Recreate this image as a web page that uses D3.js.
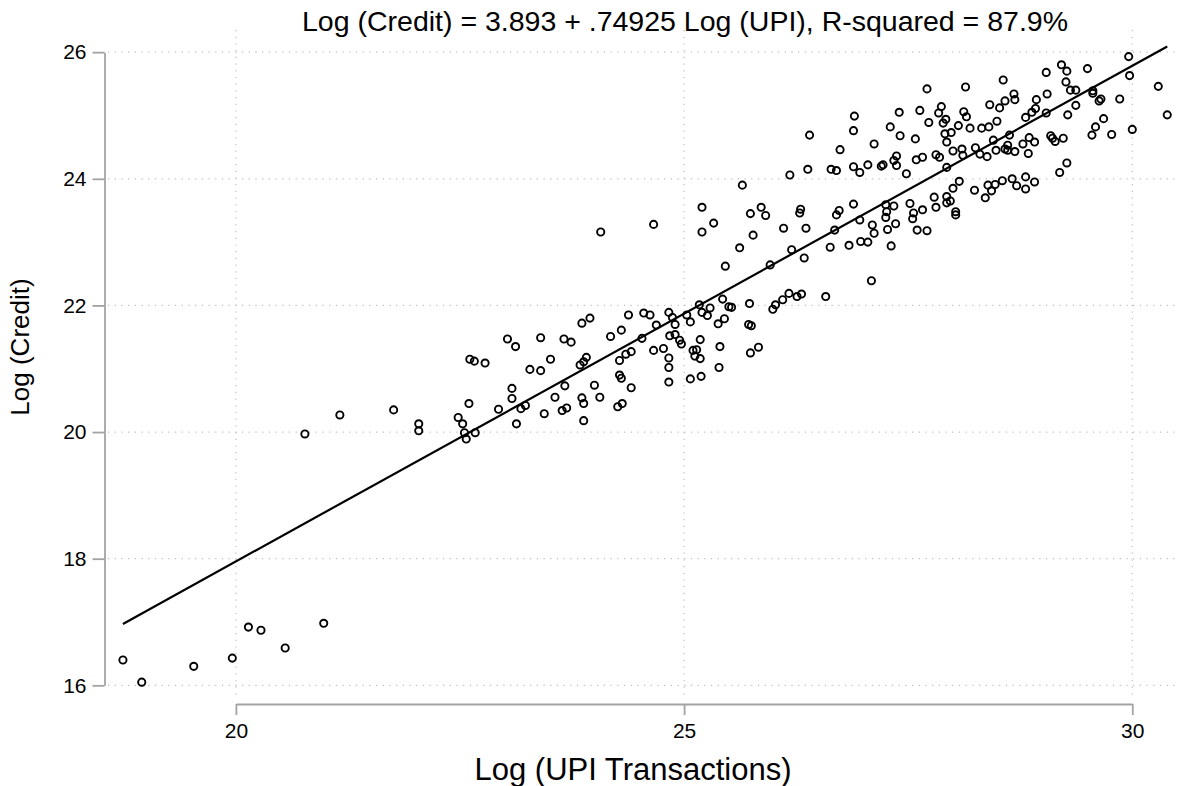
<!DOCTYPE html>
<html>
<head>
<meta charset="utf-8">
<script src="https://cdn.jsdelivr.net/npm/d3@7"></script>
<style>
  body { margin: 0; background: #fff; }
  svg { display: block; font-family: "Liberation Sans", Arial, sans-serif; }
</style>
</head>
<body>
<svg id="chart"></svg>
<script>
// scatter values: log UPI transactions (x) and log credit (y)
const upiLog = [
  18.74, 18.95, 19.53, 19.96, 20.14, 20.28, 20.55, 20.98, 20.77, 21.16, 21.76, 22.04, 22.04,
  22.48, 22.53, 22.55, 22.57, 22.67, 22.60, 22.61, 22.66, 22.78, 22.93, 23.03, 23.12, 23.08,
  23.08, 23.13, 23.18, 23.23, 23.28, 23.40, 23.40, 23.51, 23.44, 23.56, 23.64, 23.69, 23.67,
  23.66, 23.74, 23.86, 23.95, 23.84, 23.88, 23.91, 23.86, 23.88, 23.88, 24.00, 24.06,
  24.18, 24.30, 24.38, 24.28, 24.35, 24.41, 24.28, 24.30, 24.41, 24.26, 24.31, 24.53, 24.55,
  24.62, 24.69, 24.66, 24.77, 24.83, 24.83, 24.83, 24.83, 24.87, 24.90, 24.84, 24.90, 24.95,
  24.97, 25.03, 25.07, 25.10, 25.14, 25.12, 25.18, 25.18, 25.07, 25.19, 25.17, 25.20, 25.26,
  25.29, 25.43, 25.38, 25.45, 25.50, 25.53, 25.40, 25.39, 25.73, 25.72, 25.75, 25.74, 25.83,
  25.99, 26.02,
  24.07, 24.66, 25.20, 25.20, 25.33, 25.65, 25.74, 25.86, 25.91, 25.77, 25.62, 25.46, 25.96,
  26.10, 26.17, 26.26, 26.31, 26.58,
  26.18, 26.38, 26.64, 26.70, 26.89, 26.96, 27.05, 27.20, 27.22, 27.37, 27.48, 27.93,
  26.30, 26.29, 26.11, 26.36, 26.20, 26.34, 26.73, 26.70, 26.89, 26.68, 26.63, 26.84, 26.97,
  27.05, 26.96, 27.10, 27.12, 27.25, 27.34, 27.26, 27.25, 27.36, 27.27, 27.31, 27.52, 27.56,
  27.55, 27.66, 27.60, 27.71, 27.79, 27.81, 27.93, 27.93, 27.97, 28.00, 28.03, 28.03, 27.09,
  27.71, 27.87, 27.84, 27.92, 27.89, 28.06, 27.63, 27.73, 27.40, 26.90, 26.89, 26.40, 27.30,
  27.41, 27.58, 27.91, 27.98, 27.93, 28.00, 27.12, 26.74, 27.37, 27.34, 27.59, 27.66, 27.81,
  27.85,
  29.96, 29.97, 30.29, 30.39, 29.86, 29.50, 29.21, 29.27, 29.04, 29.26, 29.31, 29.37, 29.56,
  29.56, 29.65, 29.63, 29.37, 29.28, 29.68, 29.59, 30.00, 29.05, 28.93, 28.92, 28.88, 28.81,
  29.04, 28.56, 28.68, 28.69, 28.58, 28.52, 28.41, 28.49, 28.40, 28.32, 28.19, 28.14, 28.12,
  28.15,
  29.77, 29.55, 29.09, 29.11, 29.14, 29.23, 29.27, 29.19, 28.85, 28.91, 28.78, 28.84, 28.69,
  28.63, 28.61, 28.58, 28.61, 28.48, 28.45, 28.38, 28.30, 28.25, 28.11, 28.10, 28.07, 28.24,
  28.36, 28.39, 28.43, 28.47, 28.55, 28.66, 28.71, 28.81, 28.81, 28.91
];
const creditLog = [
  16.40, 16.05, 16.30, 16.43, 16.92, 16.87, 16.59, 16.98, 19.97, 20.27, 20.35, 20.13, 20.02,
  20.23, 20.13, 19.99, 19.89, 19.99, 20.45, 21.15, 21.12, 21.09, 20.36, 21.47, 21.35, 20.69,
  20.53, 20.13, 20.37, 20.42, 20.99, 20.97, 21.49, 21.15, 20.29, 20.55, 20.34, 20.38, 20.73,
  21.47, 21.42, 21.72, 21.80, 21.06, 21.11, 21.18, 20.54, 20.45, 20.18, 20.74, 20.55,
  21.51, 21.61, 21.85, 21.13, 21.23, 21.27, 20.90, 20.85, 20.70, 20.40, 20.45, 21.48, 21.88,
  21.85, 21.69, 21.29, 21.32, 21.17, 21.02, 20.79, 21.89, 21.81, 21.70, 21.52, 21.54, 21.45,
  21.39, 21.85, 21.74, 21.29, 21.30, 21.20, 21.16, 21.46, 20.84, 20.88, 22.01, 21.89, 21.84,
  21.96, 22.10, 21.71, 21.79, 21.98, 21.97, 21.35, 21.02, 22.03, 21.70, 21.68, 21.25, 21.34,
  21.94, 22.01,
  23.16, 23.28, 23.55, 23.16, 23.30, 23.90, 23.45, 23.55, 23.42, 23.11, 22.91, 22.62, 22.64,
  22.09, 22.19, 22.14, 22.18, 22.14,
  24.06, 24.15, 24.15, 24.13, 24.19, 24.10, 24.22, 24.20, 24.22, 24.21, 24.08, 24.18,
  23.52, 23.46, 23.22, 23.22, 22.88, 22.75, 23.50, 23.43, 23.60, 23.19, 22.92, 22.95, 23.01,
  23.00, 23.35, 23.27, 23.14, 23.59, 23.57, 23.48, 23.39, 23.29, 23.20, 22.94, 23.61, 23.46,
  23.37, 23.51, 23.19, 23.18, 23.71, 23.55, 23.72, 23.62, 23.65, 23.85, 23.48, 23.43, 22.39,
  25.42, 25.14, 25.04, 24.94, 24.88, 24.84, 25.08, 24.89, 25.05, 24.99, 24.76, 24.69, 24.82,
  24.68, 24.63, 24.71, 24.73, 24.58, 24.44, 24.55, 24.46, 24.36, 24.29, 24.30, 24.34, 24.38,
  24.34,
  25.93, 25.63, 25.46, 25.01, 25.26, 25.74, 25.80, 25.70, 25.68, 25.53, 25.40, 25.40, 25.39,
  25.35, 25.26, 25.23, 25.16, 25.01, 24.95, 24.82, 24.78, 25.34, 25.25, 25.11, 25.05, 24.97,
  25.04, 25.56, 25.34, 25.25, 25.23, 25.12, 25.17, 24.91, 24.82, 24.80, 24.80, 25.45, 25.06,
  24.98,
  24.70, 24.69, 24.68, 24.64, 24.59, 24.64, 24.25, 24.10, 24.65, 24.58, 24.55, 24.40, 24.43,
  24.69, 24.53, 24.47, 24.45, 24.45, 24.61, 24.35, 24.39, 24.49, 24.37, 24.47, 23.96, 23.82,
  23.70, 23.90, 23.81, 23.91, 23.97, 24.00, 23.89, 24.03, 23.84, 23.95
];

// fitted line, ends as drawn
const fitUpi = [18.74, 30.39];
const fitCredit = [16.97, 26.09];

const xTicks = [20, 25, 30];
const yTicks = [16, 18, 20, 22, 24, 26];

const titleText = 'Log (Credit) = 3.893 + .74925 Log (UPI), R-squared = 87.9%';
const xTitle = 'Log (UPI Transactions)';
const yTitle = 'Log (Credit)';

const width = 1178;
const height = 786;
const plot = { left: 105, right: 1178, top: 30, bottom: 698 };

const svg = d3.select('#chart')
  .attr('width', width)
  .attr('height', height);

const x = d3.scaleLinear()
  .domain([18.54, 30.51])
  .range([plot.left, plot.right]);

const y = d3.scaleLinear()
  .domain([15.80, 26.35])
  .range([plot.bottom, plot.top]);

// dotted grid
const grid = svg.append('g')
  .attr('stroke', '#bdbdbd')
  .attr('stroke-width', 1.2)
  .attr('stroke-dasharray', '1.2 5.5');

grid.selectAll('.hgrid')
  .data(yTicks)
  .enter()
  .append('line')
  .attr('class', 'hgrid')
  .attr('x1', plot.left + 3)
  .attr('x2', plot.right)
  .attr('y1', d => y(d))
  .attr('y2', d => y(d));

grid.selectAll('.vgrid')
  .data(xTicks)
  .enter()
  .append('line')
  .attr('class', 'vgrid')
  .attr('x1', d => x(d))
  .attr('x2', d => x(d))
  .attr('y1', plot.top)
  .attr('y2', plot.bottom);

// axes only span the labelled range, like the original
const yAxisScale = d3.scaleLinear()
  .domain([16, 26])
  .range([y(16), y(26)]);

const xAxisScale = d3.scaleLinear()
  .domain([20, 30])
  .range([x(20), x(30)]);

const yAxis = svg.append('g')
  .attr('id', 'y-axis')
  .attr('transform', 'translate(104.5,0)')
  .call(d3.axisLeft(yAxisScale).tickValues(yTicks).tickFormat(d3.format('d'))
    .tickSize(12).tickSizeOuter(0).tickPadding(6));

const xAxis = svg.append('g')
  .attr('id', 'x-axis')
  .attr('transform', 'translate(0,704)')
  .call(d3.axisBottom(xAxisScale).tickValues(xTicks).tickFormat(d3.format('d'))
    .tickSize(11).tickSizeOuter(0).tickPadding(8));

[xAxis, yAxis].forEach(ax => {
  ax.select('.domain').attr('stroke', '#a3a3a3').attr('stroke-width', 1.8);
  ax.selectAll('.tick line').attr('stroke', '#a3a3a3').attr('stroke-width', 1.8);
  ax.selectAll('.tick text')
    .attr('fill', '#000')
    .style('font-size', '21px')
    .style('font-family', '"Liberation Sans", Arial, sans-serif');
});

// fitted line
const fitData = fitUpi.map((d, i) => [d, fitCredit[i]]);
svg.append('path')
  .datum(fitData)
  .attr('fill', 'none')
  .attr('stroke', '#000')
  .attr('stroke-width', 2.2)
  .attr('d', d3.line().x(d => x(d[0])).y(d => y(d[1])));

// hollow markers
svg.selectAll('.dot')
  .data(upiLog.map((d, i) => [d, creditLog[i]]))
  .enter()
  .append('circle')
  .attr('class', 'dot')
  .attr('cx', d => x(d[0]))
  .attr('cy', d => y(d[1]))
  .attr('r', 3.6)
  .attr('fill', 'none')
  .attr('stroke', '#000')
  .attr('stroke-width', 1.9);

// titles
svg.append('text')
  .attr('x', 685)
  .attr('y', 31)
  .attr('text-anchor', 'middle')
  .style('font-size', '28.5px')
  .text(titleText);

svg.append('text')
  .attr('x', 633)
  .attr('y', 780)
  .attr('text-anchor', 'middle')
  .style('font-size', '31px')
  .text(xTitle);

svg.append('text')
  .attr('transform', 'translate(29,347) rotate(-90)')
  .attr('text-anchor', 'middle')
  .style('font-size', '26px')
  .text(yTitle);
</script>
</body>
</html>
